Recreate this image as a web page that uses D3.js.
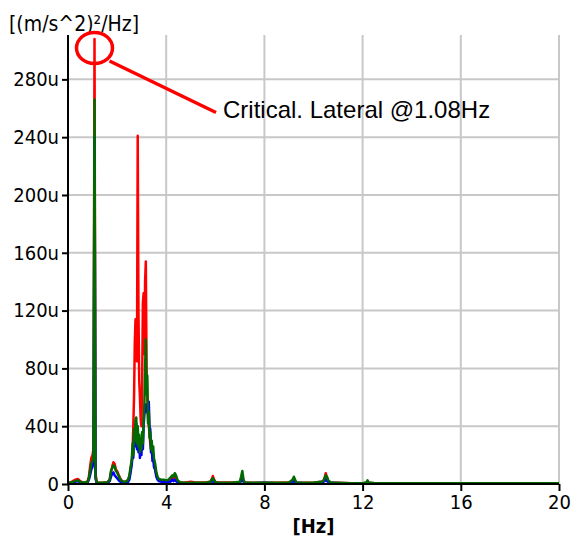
<!DOCTYPE html>
<html>
<head>
<meta charset="utf-8">
<script src="https://cdn.jsdelivr.net/npm/d3@7"></script>
<style>
  html, body { margin: 0; padding: 0; background: #fff; }
  svg { display: block; }
  .tick text { font-family: "DejaVu Sans Condensed", "DejaVu Sans", sans-serif; font-stretch: condensed; font-size: 20px; fill: #000; }
</style>
</head>
<body>
<svg id="chart" width="572" height="539"></svg>
<script>
// Frequency bins (Hz)
const freq = [
  0, 0.1, 0.2, 0.3, 0.4, 0.5, 0.6, 0.7, 0.8, 0.85, 0.9, 0.95, 1.0, 1.04, 1.08, 1.12, 1.16, 1.2,
  1.3, 1.4, 1.5, 1.6, 1.7, 1.75, 1.8, 1.85, 1.9, 1.95, 2.0, 2.05, 2.1, 2.15, 2.2, 2.3, 2.4, 2.45,
  2.5, 2.55, 2.6, 2.63, 2.66, 2.69, 2.72, 2.75, 2.78, 2.81, 2.84, 2.87, 2.9, 2.93, 2.96, 2.99,
  3.02, 3.05, 3.08, 3.11, 3.14, 3.17, 3.2, 3.23, 3.26, 3.29, 3.32, 3.35, 3.38, 3.41, 3.44, 3.47,
  3.5, 3.55, 3.6, 3.65, 3.7, 3.8, 3.9, 4.0, 4.1, 4.2, 4.25, 4.3, 4.35, 4.4, 4.45, 4.5, 4.6, 4.8,
  5.0, 5.2, 5.4, 5.6, 5.8, 5.85, 5.9, 5.95, 6.0, 6.1, 6.4, 6.7, 7.0, 7.05, 7.1, 7.15, 7.2, 7.5,
  8.0, 8.5, 9.0, 9.15, 9.2, 9.25, 9.3, 9.6, 10.0, 10.3, 10.4, 10.45, 10.5, 10.55, 10.6, 10.7,
  11.0, 11.5, 12.0, 12.15, 12.2, 12.25, 12.5, 13, 14, 15, 16, 17, 18, 19, 20
];

// PSD values in micro-units, (m/s^2)^2/Hz x 1e-6
const psdRed = [
  1, 1, 2, 3, 3.5, 2, 1, 1, 2, 5, 12, 18, 20, 25, 308, 8, 2, 1,
  0.8, 0.8, 1, 1, 3, 8, 12, 15, 14, 10, 9, 7, 5, 3, 2, 1.5, 2, 3,
  5, 10, 15, 22, 40, 60, 97, 114, 110, 85, 241, 120, 72, 60, 45, 40,
  70, 125, 132, 90, 140, 154, 80, 60, 45, 40, 35, 28, 25, 22, 20, 18,
  15, 10, 6, 4, 3, 2.5, 2.5, 2, 2, 4, 5, 4, 5, 4, 2, 1.5, 1, 1,
  1.5, 1, 1, 1, 1.5, 3, 5.5, 3, 1.5, 1, 1, 1, 1, 3, 5, 2, 1, 0.8,
  0.8, 0.8, 1, 2, 3, 2, 1, 0.8, 0.8, 1.5, 2, 4, 7.5, 4, 2, 1,
  0.8, 0.6, 0.6, 0.8, 1, 0.8, 0.6, 0.6, 0.5, 0.5, 0.6, 0.5, 0.5, 0.6, 0.6
];
const psdBlue = [
  0.5, 0.5, 1, 1.5, 2, 1, 0.5, 0.5, 1, 3, 6, 10, 12, 15, 240, 4, 1, 0.5,
  0.5, 0.5, 0.5, 0.5, 2, 5, 7, 8, 6, 5, 4, 3, 2, 1.5, 1, 0.8, 1, 1.5,
  3, 8, 14, 24, 18, 34, 26, 40, 42, 24, 36, 22, 30, 18, 26, 20,
  32, 24, 40, 48, 52, 55, 50, 52, 48, 57, 40, 38, 22, 26, 16, 20,
  12, 10, 5, 3, 2, 1.5, 1.5, 1.5, 1, 2, 3, 2, 3, 2, 1.5, 1, 0.5, 0.5,
  0.5, 0.5, 0.5, 0.5, 1, 1.5, 2, 1.5, 1, 0.5, 0.5, 0.5, 0.8, 2, 3, 1.5, 0.8, 0.5,
  0.8, 0.5, 0.5, 1.5, 2, 1.5, 0.8, 0.5, 0.5, 1, 1.5, 2, 3, 2, 1.5, 0.8,
  0.5, 0.5, 0.5, 0.5, 0.8, 0.5, 0.5, 0.6, 0.5, 0.5, 0.5, 0.5, 0.5, 0.5, 0.5
];
const psdGreen = [
  0.8, 1, 1.5, 2, 2.5, 1.5, 1, 1, 1.5, 4, 9, 14, 16, 20, 266, 6, 1.5, 1,
  0.8, 0.8, 1, 0.8, 3, 9, 11, 13, 12, 9, 8, 6, 4, 3, 2, 1.5, 2, 3,
  6, 12, 17, 28, 20, 38, 30, 44, 46, 28, 40, 26, 34, 22, 30, 24,
  36, 28, 44, 55, 80, 100, 62, 75, 42, 50, 32, 36, 24, 30, 22, 26,
  18, 14, 8, 5, 3.5, 3, 3, 2.5, 3, 5, 6, 5, 7.5, 6, 3, 2, 1, 0.8,
  0.8, 0.8, 0.8, 0.8, 1.5, 3, 4, 2.5, 1.5, 1, 0.8, 0.8, 1.5, 5, 9, 3, 1, 0.8,
  0.8, 0.8, 1, 3, 5, 3, 1, 0.8, 0.8, 1.5, 2, 4, 6, 5, 2.5, 1,
  0.8, 0.6, 0.6, 1, 2.5, 1, 0.6, 0.5, 0.5, 0.5, 0.5, 0.5, 0.5, 0.5, 0.5
];

const seriesList = [
  { name: "red", values: psdRed, color: "#ff0000" },
  { name: "blue", values: psdBlue, color: "#0000ff" },
  { name: "green", values: psdGreen, color: "#006a00" }
];

const xTicks = [0, 4, 8, 12, 16, 20];
const yTicks = [0, 40, 80, 120, 160, 200, 240, 280];
const yUnitLabel = "[(m/s^2)\u00b2/Hz]";
const xUnitLabel = "[Hz]";
const peakFreq = 1.08;
const annotationText = "Critical. Lateral @1.08Hz";

const W = 572, H = 539;
const margin = { top: 35, right: 13, bottom: 55, left: 68 };
const innerW = W - margin.left - margin.right;
const innerH = H - margin.top - margin.bottom;

const svg = d3.select("#chart");

const x = d3.scaleLinear().domain([0, 20]).range([margin.left, margin.left + innerW]);
const y = d3.scaleLinear().domain([0, 310.7]).range([margin.top + innerH, margin.top]);

// Grid
const grid = svg.append("g").attr("stroke", "#c8c8c8").attr("stroke-width", 2);
grid.selectAll("line.h").data(yTicks.filter(d => d > 0)).join("line")
  .attr("x1", margin.left).attr("x2", margin.left + innerW)
  .attr("y1", d => y(d)).attr("y2", d => y(d));
grid.selectAll("line.v").data(xTicks.filter(d => d > 0)).join("line")
  .attr("x1", d => x(d)).attr("x2", d => x(d))
  .attr("y1", margin.top).attr("y2", margin.top + innerH);

// Spectra
svg.append("clipPath").attr("id", "plotClip").append("rect")
  .attr("x", margin.left).attr("y", margin.top).attr("width", innerW).attr("height", innerH);

const line = d3.line()
  .x((d, i) => x(freq[i]))
  .y(d => y(d));

svg.append("g").attr("clip-path", "url(#plotClip)")
  .selectAll("path").data(seriesList).join("path")
  .attr("d", s => line(s.values))
  .attr("fill", "none")
  .attr("stroke", s => s.color)
  .attr("stroke-width", 2.5)
  .attr("stroke-linejoin", "round");

// Axes
const xAxis = svg.append("g")
  .attr("transform", `translate(0,${margin.top + innerH})`)
  .call(d3.axisBottom(x).tickValues(xTicks).tickSize(7).tickSizeOuter(0).tickPadding(4));
const yAxis = svg.append("g")
  .attr("transform", `translate(${margin.left},0)`)
  .call(d3.axisLeft(y).tickValues(yTicks).tickSize(6).tickSizeOuter(0).tickPadding(3)
    .tickFormat(d => d === 0 ? "0" : d + "u"));
[xAxis, yAxis].forEach(a => {
  a.select(".domain").attr("stroke", "#000").attr("stroke-width", 2);
  a.selectAll(".tick line").attr("stroke", "#000").attr("stroke-width", 2);
});
yAxis.select(".domain").attr("d", `M0,${margin.top}V${margin.top + innerH}`);
xAxis.select(".domain").attr("d", `M${margin.left},0H${margin.left + innerW}`);

// Axis titles
svg.append("text")
  .attr("x", 9).attr("y", 31)
  .attr("font-family", "'DejaVu Sans Condensed', 'DejaVu Sans', sans-serif")
  .attr("font-stretch", "condensed")
  .attr("font-size", 21)
  .text(yUnitLabel);
svg.append("text")
  .attr("x", margin.left + innerW / 2).attr("y", 533)
  .attr("text-anchor", "middle")
  .attr("font-family", "'DejaVu Sans Condensed', 'DejaVu Sans', sans-serif")
  .attr("font-stretch", "condensed")
  .attr("font-weight", "bold")
  .attr("font-size", 20)
  .text(xUnitLabel);

// Peak annotation
const ann = svg.append("g").attr("stroke", "#ff0000").attr("fill", "none").attr("stroke-width", 3.5);
ann.append("ellipse").attr("cx", x(peakFreq)).attr("cy", 48).attr("rx", 18).attr("ry", 15.5);
ann.append("line").attr("x1", x(peakFreq) + 15).attr("y1", 61).attr("x2", 216).attr("y2", 112.5);
svg.append("text")
  .attr("x", 223).attr("y", 118)
  .attr("font-family", "'Liberation Sans', Arial, sans-serif")
  .attr("font-size", 24)
  .text(annotationText);
</script>
</body>
</html>
